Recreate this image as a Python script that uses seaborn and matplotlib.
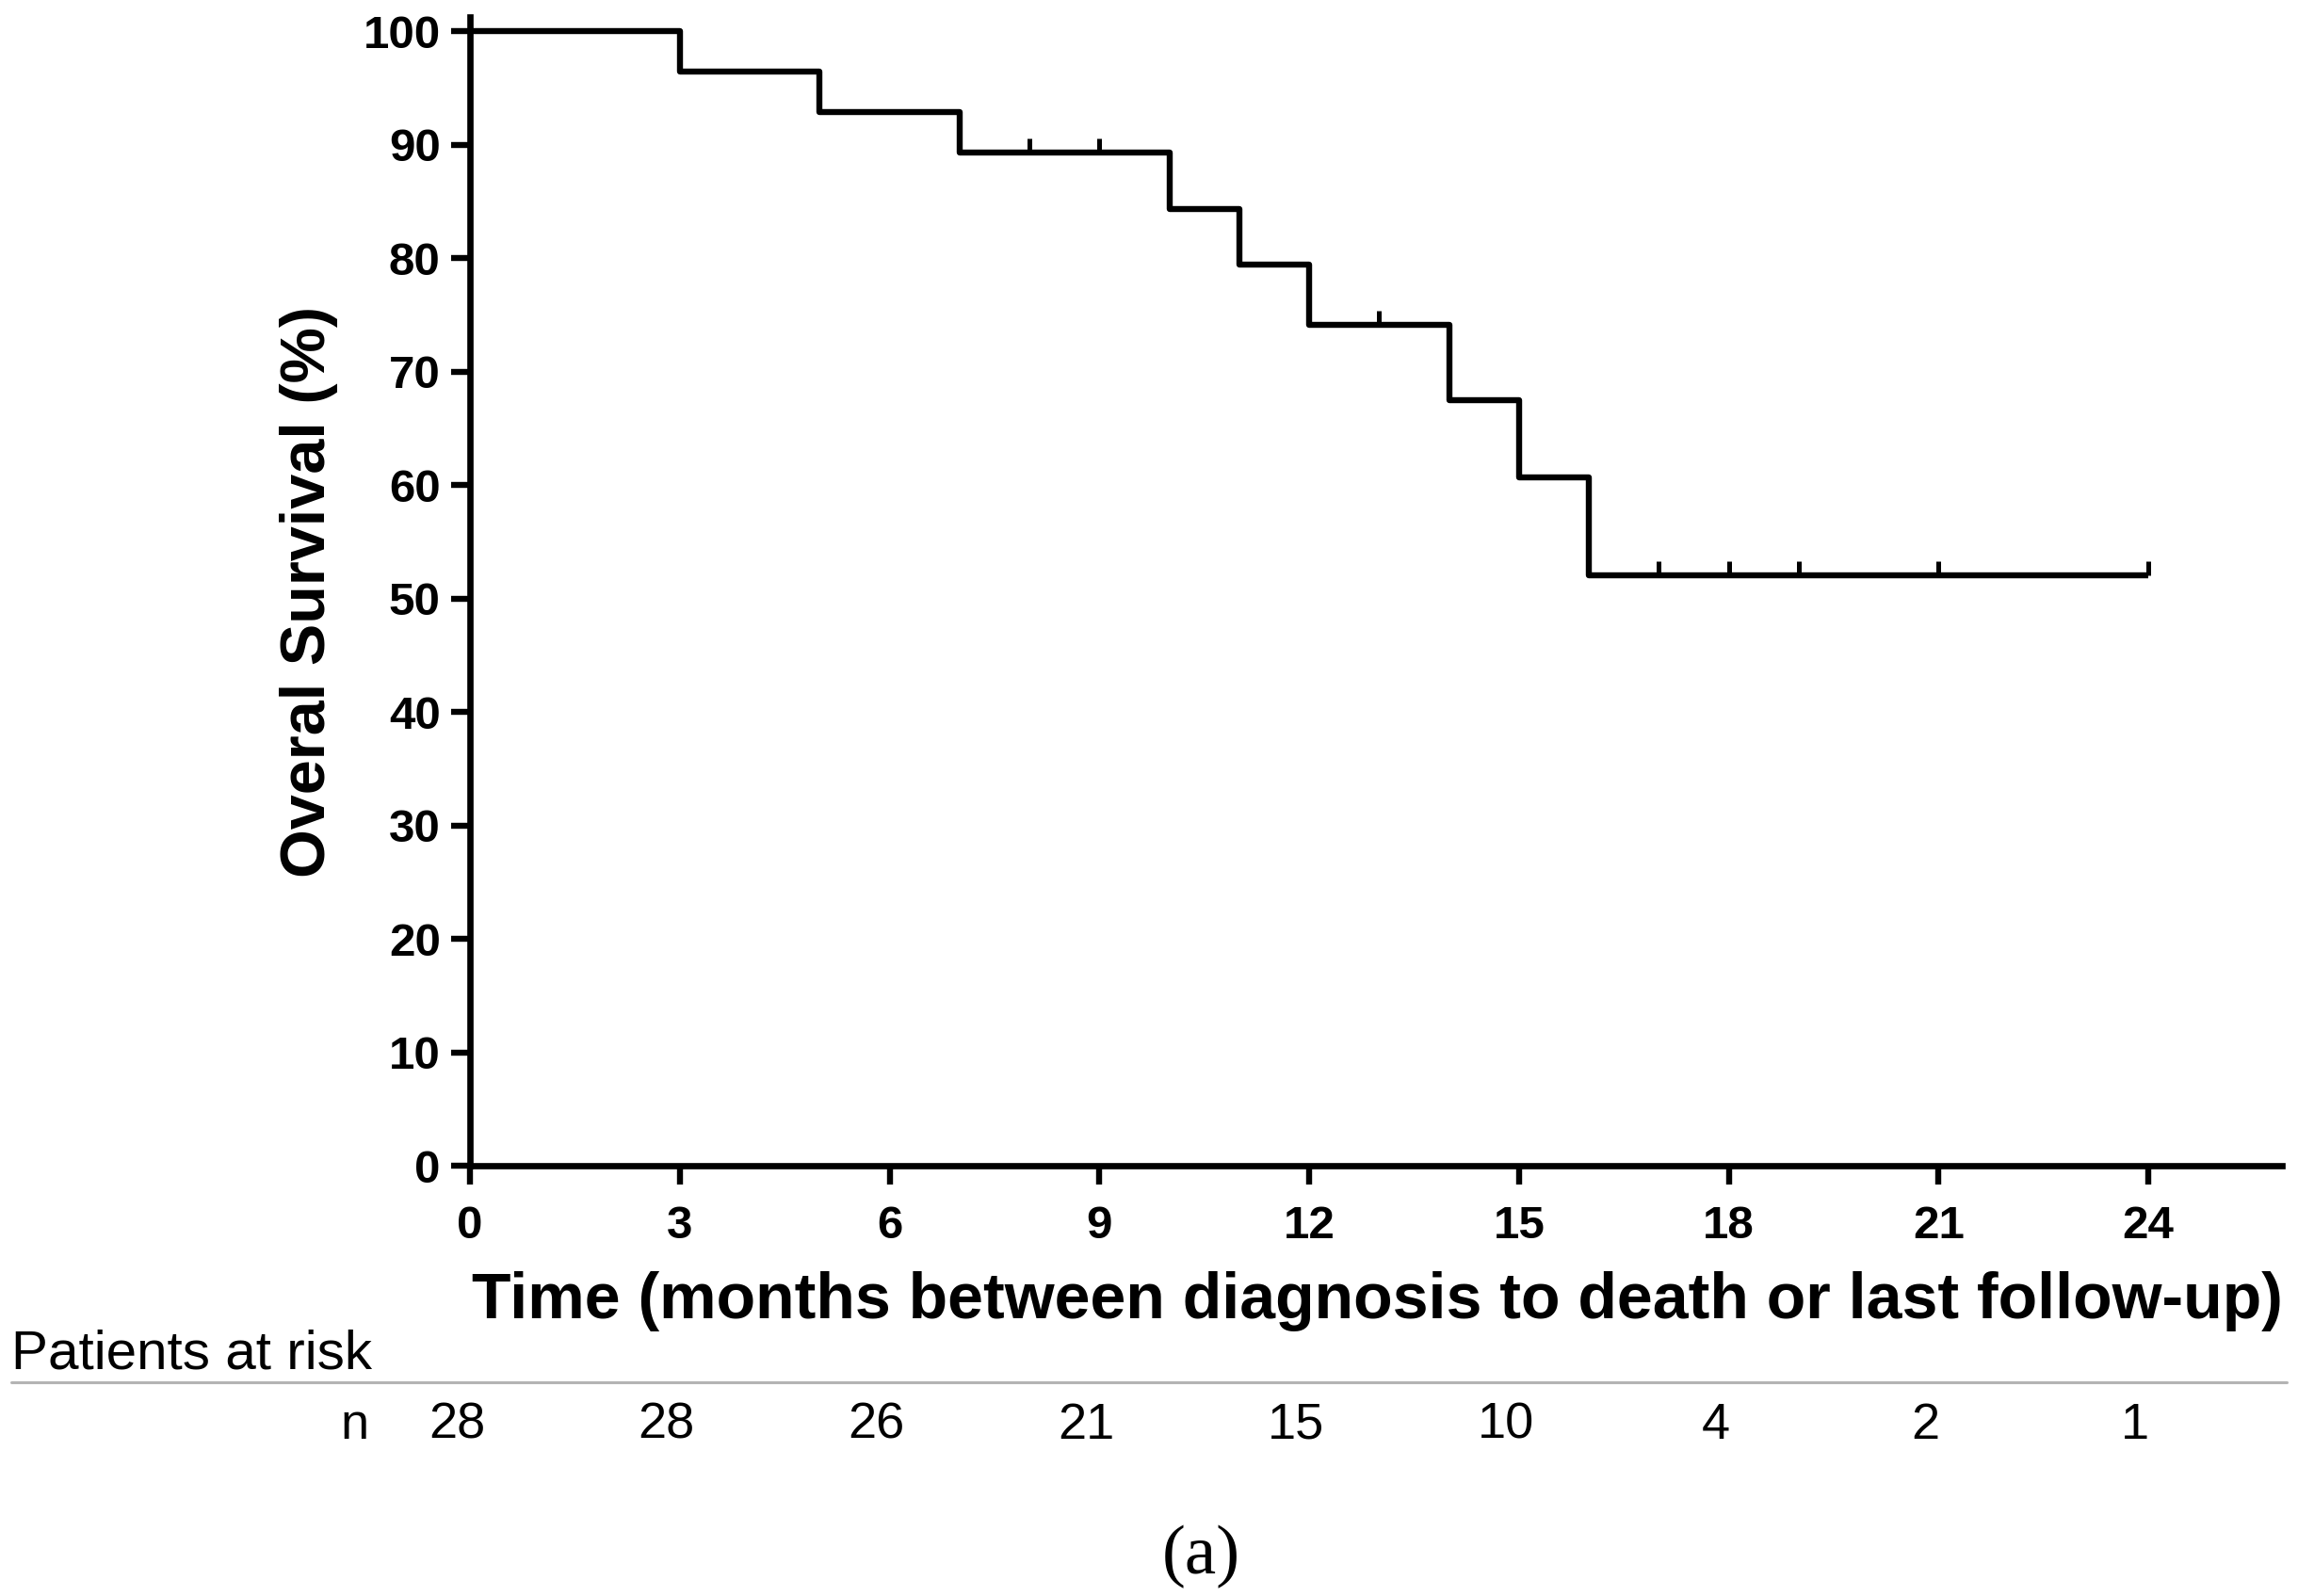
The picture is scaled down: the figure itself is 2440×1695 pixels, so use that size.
import matplotlib
matplotlib.use("Agg")
import matplotlib.pyplot as plt
import matplotlib.transforms as mtransforms
from matplotlib.lines import Line2D
import seaborn as sns
import pandas as pd

# ---- data ----
step_months = [0, 3, 5, 7, 10, 11, 12, 14, 15, 16, 24]
step_survival = [100, 96.4, 92.9, 89.3, 84.3, 79.4, 74.1, 67.5, 60.7, 52.0, 52.0]
censor_months = [8, 9, 13, 17, 18, 19, 21, 24]
censor_survival = [89.3, 89.3, 74.1, 52.0, 52.0, 52.0, 52.0, 52.0]
x_ticks = [0, 3, 6, 9, 12, 15, 18, 21, 24]
y_ticks = [0, 10, 20, 30, 40, 50, 60, 70, 80, 90, 100]
risk_months = [0, 3, 6, 9, 12, 15, 18, 21, 24]
risk_n = [28, 28, 26, 21, 15, 10, 4, 2, 1]

sns.set_theme(style="white")
plt.rcParams["font.family"] = ["Liberation Sans", "DejaVu Sans"]
plt.rcParams.update({
    "text.color": "black",
    "axes.labelcolor": "black",
    "xtick.color": "black",
    "ytick.color": "black",
    "xtick.bottom": True,
    "ytick.left": True,
})

W, H = 2440, 1695
fig = plt.figure(figsize=(W / 100, H / 100), dpi=100)
fig.patch.set_facecolor("white")
ax_l, ax_r, ax_b, ax_t = 499, 2423, 1238, 18
ax = fig.add_axes([ax_l / W, 1 - ax_b / H, (ax_r - ax_l) / W, (ax_b - ax_t) / H])
ax.set_facecolor("white")

curve = pd.DataFrame({"month": step_months, "survival": step_survival})
cens = pd.DataFrame({"month": censor_months, "survival": censor_survival})

sns.lineplot(data=curve, x="month", y="survival", drawstyle="steps-post",
             color="black", linewidth=4.6, ax=ax, estimator=None,
             solid_capstyle="butt", clip_on=False)
sns.lineplot(data=cens, x="month", y="survival", color="black", linestyle="",
             marker=2, markersize=10.5, markeredgewidth=3.6,
             markeredgecolor="black", markerfacecolor="black", ax=ax,
             estimator=None, clip_on=False)

ax.set_xlim(0, 25.91)
ax.set_ylim(0, 101.25)
ax.set_xticks(x_ticks)
ax.set_yticks(y_ticks)
ax.set_xticklabels([str(v) for v in x_ticks], fontsize=35.5, fontweight="bold")
ax.set_yticklabels([str(v) for v in y_ticks], fontsize=35.5, fontweight="bold")

for side in ["top", "right"]:
    ax.spines[side].set_visible(False)
for side in ["left", "bottom"]:
    ax.spines[side].set_linewidth(4.8)
    ax.spines[side].set_color("black")
    ax.spines[side].set_capstyle("projecting")

ax.tick_params(axis="both", which="major", direction="out", length=14.5,
               width=4.6, color="black", labelcolor="black",
               bottom=True, left=True, top=False, right=False)
ax.tick_params(axis="x", pad=16)
ax.tick_params(axis="y", pad=8)
ax.grid(False)

ax.set_xlabel("Time (months between diagnosis to death or last follow-up)",
              fontsize=49, fontweight="bold", va="baseline", ha="center",
              color="black")
ax.xaxis.set_label_coords(0.5005, (ax_b - 1400) / (ax_b - ax_t))
ax.set_ylabel("Overal Survival (%)", fontsize=48, fontweight="bold",
              rotation=90, rotation_mode="anchor", va="baseline", ha="center",
              color="black")
ax.yaxis.set_label_coords((345 - ax_l) / (ax_r - ax_l), 0.5)

# ---- patients at risk table ----
fig.text(12 / W, 1 - 1453 / H, "Patients at risk", fontsize=42,
         ha="left", va="baseline", color="black")
fig.add_artist(Line2D([12 / W, 2428 / W], [1 - 1468 / H, 1 - 1468 / H],
                      transform=fig.transFigure, color="#b4b4b4", linewidth=2.2))
fig.text(376 / W, 1 - 1528 / H, "n", fontsize=39, ha="center", va="baseline",
         color="black")
risk_tr = mtransforms.blended_transform_factory(ax.transData, fig.transFigure) + \
    mtransforms.ScaledTranslation(-0.14, 0, fig.dpi_scale_trans)
for m, n in zip(risk_months, risk_n):
    ax.text(m, 1 - 1528 / H, str(n), transform=risk_tr, fontsize=39,
            ha="center", va="baseline", color="black", clip_on=False)

fig.text(1275 / W, 1 - 1653 / H, "(a)", fontsize=54, ha="center", va="center",
         family=["Liberation Serif", "DejaVu Serif"], color="black")

fig.savefig("out.png", dpi=100, facecolor="white")
